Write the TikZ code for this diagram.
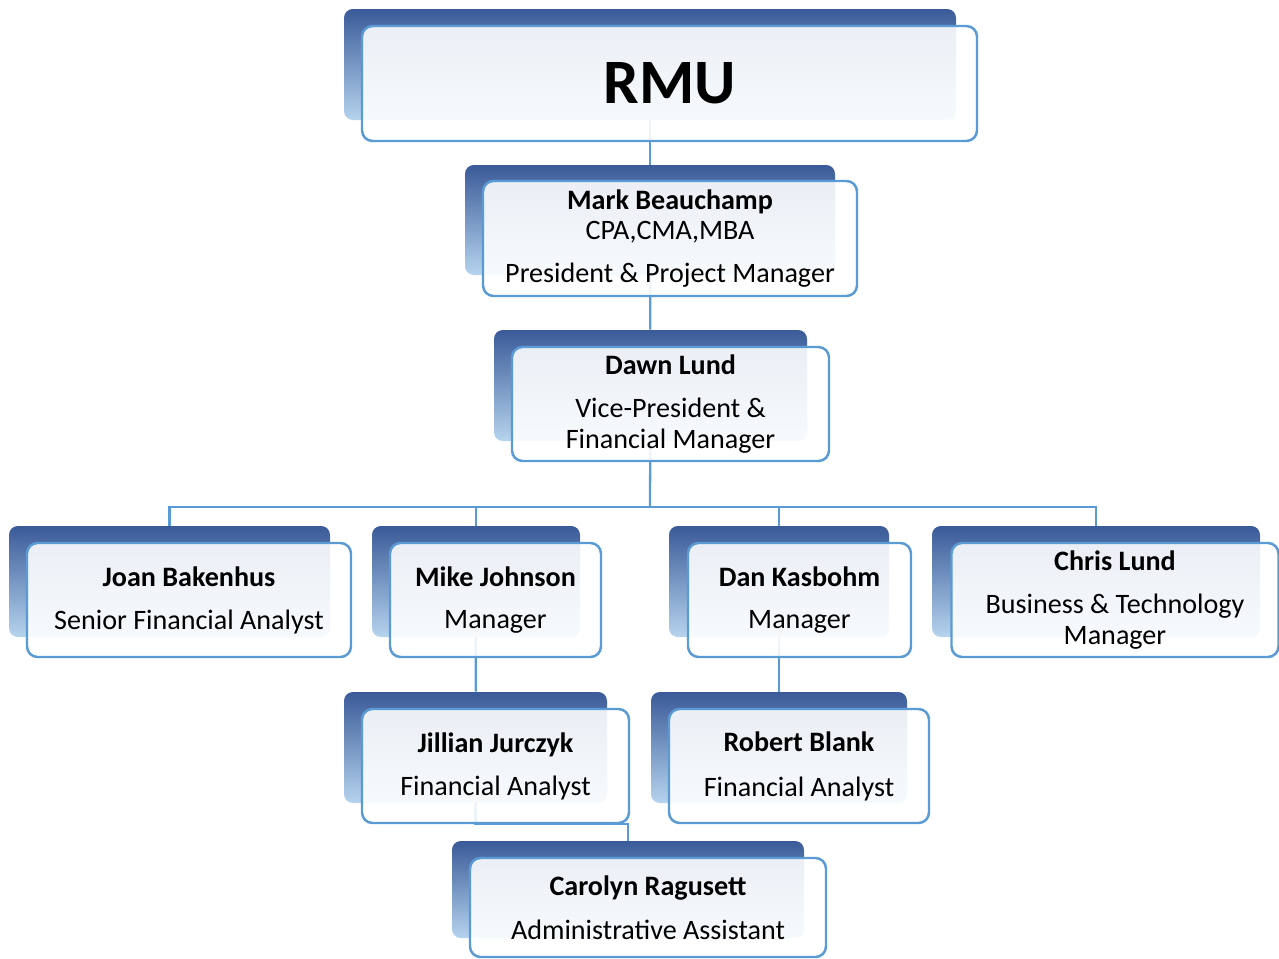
\documentclass[tikz,border=0pt]{standalone}
\usepackage{fontspec}
\setmainfont{Carlito}
\definecolor{boxline}{HTML}{5B9BD5}
\definecolor{backtop}{HTML}{3A5A99}
\definecolor{backbot}{HTML}{B6D4EE}
\pgfdeclarelayer{lines}
\pgfdeclarelayer{backs}
\pgfsetlayers{lines,backs,main}
\tikzset{
	boxsize/.style 2 args={minimum width=#1*0.02cm,minimum height=#2*0.02cm},
	backbox/.style={top color=backtop,bottom color=backbot,rounded corners=5pt,inner sep=0pt},
	frontbox/.style={draw=boxline,line width=1.4pt,rounded corners=6pt,fill=white,fill opacity=0.89,text opacity=1,align=center,inner sep=0pt,font=\fontsize{16}{17.6}\selectfont},
	link/.style={draw=boxline,line width=1.3pt}
}

\begin{document}
\begin{tikzpicture}[x=0.02cm,y=-0.02cm]
			\useasboundingbox (0,0) rectangle (1279,958);
			
			\node[frontbox,boxsize={615}{115}] (rmu) at (669.5,83.5) {\fontsize{36}{40}\selectfont\bfseries RMU};
			\node[frontbox,boxsize={374}{115}] (mark) at (670,238.5) {\textbf{Mark Beauchamp}\\ CPA,CMA,MBA\\[6.8pt] President \& Project Manager};
			\node[frontbox,boxsize={317}{114}] (dawn) at (670.5,404) {\textbf{Dawn Lund}\\[6.8pt] Vice-President \&\\ Financial Manager};
			
			\node[frontbox,boxsize={324}{114}] (joan) at (189,600) {\textbf{Joan Bakenhus}\\[6.8pt] Senior Financial Analyst};
			\node[frontbox,boxsize={211}{114}] (mike) at (495.5,600) {\textbf{Mike Johnson}\\[6.8pt] Manager};
			\node[frontbox,boxsize={223}{114}] (dan) at (799.5,600) {\textbf{Dan Kasbohm}\\[6.8pt] Manager};
			\node[frontbox,boxsize={327}{114}] (chris) at (1115,600) {\textbf{Chris Lund}\\[6.8pt] Business \& Technology\\ Manager};
			
			\node[frontbox,boxsize={267}{114}] (jill) at (495.5,766) {\textbf{Jillian Jurczyk}\\[6.8pt] Financial Analyst};
			\node[frontbox,boxsize={260}{114}] (rob) at (799,766) {\textbf{Robert Blank}\\[8pt] Financial Analyst};
			
			\node[frontbox,boxsize={356}{99}] (carol) at (648,907.5) {\textbf{Carolyn Ragusett}\\[7.5pt] Administrative Assistant};
			
			\begin{pgfonlayer}{backs}
				\node[backbox,boxsize={612}{111}] (rmu-b) at (650,64.5) {};
				\node[backbox,boxsize={370}{110}] (mark-b) at (650,220) {};
				\node[backbox,boxsize={313}{111}] (dawn-b) at (650.5,385.5) {};
				\node[backbox,boxsize={321}{111}] (joan-b) at (169.5,581.5) {};
				\node[backbox,boxsize={208}{111}] (mike-b) at (476,581.5) {};
				\node[backbox,boxsize={220}{111}] (dan-b) at (779,581.5) {};
				\node[backbox,boxsize={328}{111}] (chris-b) at (1096,581.5) {};
				\node[backbox,boxsize={263}{111}] (jill-b) at (475.5,747.5) {};
				\node[backbox,boxsize={256}{111}] (rob-b) at (779,747.5) {};
				\node[backbox,boxsize={352}{97}] (carol-b) at (628,889.5) {};
			\end{pgfonlayer}
			
			\coordinate (bus) at (650,507);
			
			\begin{pgfonlayer}{lines}
				\draw[link] (rmu-b) -- (mark-b);
				\draw[link] (mark-b) -- (dawn-b);
				\draw[link] (dawn-b) -- (bus);
				\draw[link] (joan-b) |- (bus) -| (chris-b);
				\draw[link] (mike-b) -- (mike-b |- bus);
				\draw[link] (dan-b) -- (dan-b |- bus);
				\draw[link] (mike-b) -- (jill-b);
				\draw[link] (dan-b) -- (rob-b);
				\draw[link] (jill-b) |- (jill.south) -| (carol-b);
			\end{pgfonlayer}
		\end{tikzpicture}
\end{document}
